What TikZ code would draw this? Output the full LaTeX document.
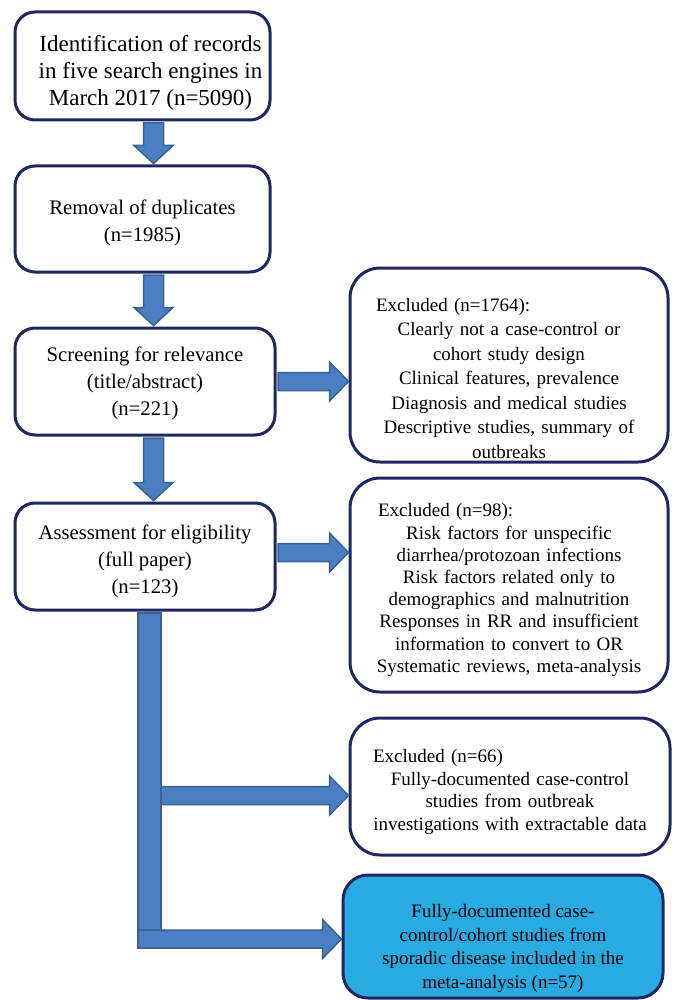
\documentclass[tikz,border=0pt]{standalone}
\usepackage{fontspec}
\setmainfont{Liberation Serif}
\usetikzlibrary{calc}
\definecolor{boxline}{HTML}{1F2760}
\definecolor{arrowfill}{HTML}{4A7FC1}
\definecolor{arrowline}{HTML}{3A6192}
\definecolor{inclfill}{HTML}{29ABE2}
% block arrow down, from the south of #1 to the north of #2, on the spine
\newcommand{\downblock}[2]{%
  \path[blockarrow] let \p1=(#1.south -| spine), \p2=(#2.north) in
    (\x1-10pt,\y1-1.5pt) -- (\x1+10pt,\y1-1.5pt) -- (\x1+10pt,\y2+19pt) -- (\x1+19.5pt,\y2+19pt)
    -- (\x1,\y2+1pt) -- (\x1-19.5pt,\y2+19pt) -- (\x1-10pt,\y2+19pt) -- cycle;}
% block arrow right, from #1 to the x of #2
\newcommand{\rightblock}[2]{%
  \path[blockarrow] let \p1=(#1), \p2=(#2) in
    (\x1,\y1+9pt) -- (\x2-19pt,\y1+9pt) -- (\x2-19pt,\y1+19.5pt) -- (\x2,\y1)
    -- (\x2-19pt,\y1-19.5pt) -- (\x2-19pt,\y1-9pt) -- (\x1,\y1-9pt) -- cycle;}
\tikzset{
  stepbox/.style={draw=boxline, line width=3pt, rounded corners=20pt, fill=white, inner sep=0pt},
  exclbox/.style={stepbox, rounded corners=30pt},
  steptext/.style={align=center, inner sep=0pt, font=\fontsize{20.7}{27}\selectfont},
  excltext/.style={steptext, font=\fontsize{19}{23.5}\selectfont},
  blockarrow/.style={fill=arrowfill, draw=arrowline, line width=1.5pt}
}
\begin{document}
\begin{tikzpicture}[x=1pt, y=-1pt]
\useasboundingbox (0,0) rectangle (676,1000);
\coordinate (spine) at (153.5,0);
% main column
\node[stepbox, minimum width=255pt, minimum height=108pt] (idrec) at (142.5,66) {};
\node[steptext, font=\fontsize{23}{27}\selectfont] (idrec-txt) at ($(idrec)+(8,7)$)
  {Identification of records\\ in five search engines in\\ March 2017 (n=5090)};
\node[stepbox, minimum width=255pt, minimum height=106pt] (dup) at (142.5,219) {};
\node[steptext] (dup-txt) at ($(dup)+(0,4)$) {Removal of duplicates\\ (n=1985)};
\node[stepbox, minimum width=260pt, minimum height=107pt] (screen) at (145,381.5) {};
\node[steptext] (screen-txt) at ($(screen)+(0,2)$)
  {Screening for relevance\\ (title/abstract)\\ (n=221)};
\node[stepbox, minimum width=260pt, minimum height=107pt] (elig) at (145,556.5) {};
\node[steptext] (elig-txt) at ($(elig)+(0,5)$)
  {Assessment for eligibility\\ (full paper)\\ (n=123)};
% exclusions
\node[exclbox, minimum width=318pt, minimum height=194pt] (exscr) at (509,365) {};
\node[excltext, text width=266pt, font=\fontsize{19}{24.5}\selectfont] (exscr-txt) at ($(exscr)+(0,13)$)
  {\makebox[\hsize][l]{Excluded (n=1764):}\\ Clearly not a case-control or\\ cohort study design\\
   Clinical features, prevalence\\ Diagnosis and medical studies\\ Descriptive studies, summary of\\ outbreaks};
\node[exclbox, minimum width=318pt, minimum height=214pt] (exelig) at (509,585) {};
\node[excltext, text width=270pt, font=\fontsize{19}{22.2}\selectfont] (exelig-txt) at ($(exelig)+(0,5)$)
  {\makebox[\hsize][l]{\hspace*{4pt}Excluded (n=98):}\\ Risk factors for unspecific\\ diarrhea/protozoan infections\\
   Risk factors related only to\\ demographics and malnutrition\\ Responses in RR and insufficient\\
   information to convert to OR\\ Systematic reviews, meta-analysis};
\node[exclbox, minimum width=320pt, minimum height=137pt] (exout) at (510,786.5) {};
\node[excltext, text width=274pt, font=\fontsize{19}{22.7}\selectfont] (exout-txt) at ($(exout)+(0,5.5)$)
  {\makebox[\hsize][l]{Excluded (n=66)}\\ Fully-documented case-control\\ studies from outbreak\\
   investigations with extractable data};
\node[exclbox, rounded corners=25pt, fill=inclfill, minimum width=320pt, minimum height=123pt] (incl) at (503,936.5) {};
\node[excltext] (incl-txt) at ($(incl)+(0,12)$)
  {Fully-documented case-\\ control/cohort studies from\\ sporadic disease included in the\\ meta-analysis (n=57)};
% arrows
\downblock{idrec}{dup}
\downblock{dup}{screen}
\downblock{screen}{elig}
\rightblock{$(screen.east)+(1.5,0)$}{exscr.west}
\rightblock{$(elig.east)+(1.5,-4)$}{exelig.west}
\coordinate (trunk) at ($(elig.south)+(4.5,0)$);
\path[blockarrow] ($(trunk)+(-11.5,1.5)$) rectangle ($(trunk)+(11.5,337)$);
\rightblock{$(trunk)+(11.5,184)$}{exout.west}
\rightblock{$(trunk)+(-11.5,327.5)$}{incl.west}
\end{tikzpicture}
\end{document}
